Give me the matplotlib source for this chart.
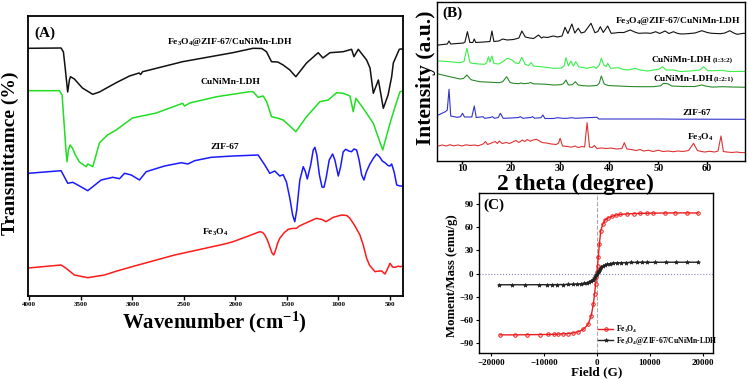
import matplotlib
matplotlib.use("Agg")
import matplotlib.pyplot as plt

plt.rcParams["font.family"] = ["Liberation Serif", "DejaVu Serif"]
plt.rcParams["font.weight"] = "bold"
plt.rcParams["mathtext.fontset"] = "custom"
plt.rcParams["mathtext.rm"] = "Liberation Serif:bold"
plt.rcParams["mathtext.it"] = "Liberation Serif:bold"
plt.rcParams["mathtext.bf"] = "Liberation Serif:bold"

# ---------------- (A) FTIR data ----------------
ftir_comp_wn = [4010, 3692, 3669, 3650, 3628, 3611, 3601, 3563, 3485, 3385, 3320, 3157, 3028, 2935,
                2920, 2901, 2833, 2513, 2026, 1829, 1744, 1699, 1650, 1589, 1537, 1472, 1414, 1310,
                1197, 1151, 1083, 954, 873, 850, 808, 727, 694, 662, 613, 565, 519, 484, 468, 410, 393, 374]
ftir_comp_t = [251.7, 252, 248, 230, 208, 220, 223.3, 221, 212, 205.7, 208, 217.3, 224, 227,
               225.5, 228.3, 230, 238.3, 247.3, 251.7, 251.5, 248.3, 238.3, 238, 235, 230, 223.3, 237,
               247.3, 242, 247.3, 248.3, 250.7, 243.3, 250.7, 240, 232, 206.7, 220, 191.7, 205, 223.3, 237, 250.7, 251, 251]

ftir_ldh_wn = [4010, 3708, 3682, 3665, 3645, 3634, 3621, 3604, 3582, 3553, 3514, 3449, 3433, 3384, 3320,
               3242, 3157, 2999, 2768, 2513, 2493, 2444, 2182, 1861, 1829, 1780, 1731, 1696, 1650, 1585,
               1537, 1472, 1414, 1310, 1180, 1100, 1018, 954, 889, 857, 831, 760, 662, 571, 500, 451, 403, 374]
ftir_ldh_t = [209.3, 209.3, 205, 180, 150, 138.3, 150, 155, 152, 145, 138, 133.3, 136, 133.3, 157,
              165, 170, 182, 187, 196.7, 194, 197, 203.3, 208.3, 208.3, 202.7, 204, 198, 183.3, 181.7,
              180, 174, 168.3, 183.3, 198.3, 200, 207.3, 206.7, 204, 188.3, 201.7, 191.7, 176.7, 150, 176.7, 193.3, 208.3, 209]

ftir_zif_wn = [4010, 3692, 3627, 3579, 3530, 3433, 3303, 3190, 3125, 3076, 3011, 2931, 2866, 2688, 2525,
               2461, 2396, 2234, 2023, 1780, 1715, 1667, 1618, 1570, 1537, 1505, 1472, 1445, 1424, 1405,
               1375, 1342, 1320, 1303, 1270, 1245, 1229, 1210, 1185, 1160, 1141, 1120, 1090, 1057, 1035,
               1002, 980, 955, 931, 900, 873, 850, 824, 800, 775, 753, 730, 695, 660, 630, 600, 575, 549,
               520, 500, 484, 460, 435, 403, 380]
ftir_zif_t = [126.7, 129.3, 116.7, 117.7, 115, 109.3, 120, 122.7, 121.3, 126.7, 125, 120, 128.3, 134, 137.3,
              136, 139.3, 142.7, 144, 145, 135, 126.7, 129, 124, 125.3, 118, 101.7, 85, 78.3, 90,
              120, 133.3, 128, 121, 135, 150, 152.7, 145, 125, 113, 112.7, 122, 140, 146, 140,
              124, 133, 148, 150.7, 149, 148.3, 151, 150, 140, 125, 120, 128, 136, 142, 146, 143, 139, 137.3,
              134.5, 134, 136, 128, 115, 114, 114]

ftir_fe_wn = [4010, 3692, 3643, 3563, 3433, 3271, 3150, 2979, 2590, 2104, 2023, 1900, 1764, 1735, 1715,
              1690, 1667, 1645, 1628, 1610, 1590, 1570, 1530, 1488, 1450, 1407, 1380, 1310, 1213, 1160,
              1122, 1050, 969, 920, 889, 840, 792, 760, 727, 700, 646, 610, 581, 549, 520, 500, 475, 451, 420, 400, 374]
ftir_fe_t = [32, 35, 31.7, 25, 22.3, 25, 29, 34, 45, 56, 58.3, 63, 68.3, 67.5, 65,
             60, 53.3, 47, 45, 50, 57, 61.7, 67, 70.7, 71.5, 71.7, 74, 77.3, 81.7, 80.5,
             78.3, 82.7, 85, 84.5, 81.7, 74, 65, 55, 41.7, 35, 28.3, 29, 29, 26, 32, 36.7, 33, 32.7, 33.8, 33.3, 34]

# ---------------- (B) XRD data ----------------
xrd_comp_2t = [5.2, 7.0, 7.35, 7.7, 9.0, 10.3, 10.6, 11.1, 11.6, 12.2, 12.5, 12.8, 14.5, 15.7, 16.1, 16.5,
               17.5, 18.3, 19.2, 20.5, 21.6, 22.2, 22.9, 23.8, 24.6, 25.6, 26.2, 26.6, 27.4, 28.6, 29.5,
               30.4, 31.0, 31.6, 32.4, 33.0, 33.7, 34.3, 35.0, 35.4, 36.3, 37.1, 37.7, 38.2, 38.8, 39.7,
               40.4, 41.2, 41.9, 43.0, 44.3, 45.2, 46.0, 47.5, 48.5, 49.5, 50.3, 51.4, 52.2, 53.1, 54.0,
               54.8, 56.0, 57.5, 58.9, 60.0, 60.9, 62.7, 63.6, 64.6, 65.4, 66.1, 67.4, 68.0]
xrd_comp_i = [125, 126, 129, 126, 126.5, 127, 128, 138.3, 127.5, 127.5, 131, 127.5, 128, 128.5, 139, 128.5,
              129, 131, 130, 130.5, 132, 139, 133, 132, 131.5, 135, 132, 133, 132.5, 134, 133,
              134, 142.7, 136.5, 146, 137, 141.7, 137, 138, 140.7, 146.7, 137.3, 138.5, 143.3, 137.5, 144,
              136.7, 137, 137.5, 137.5, 140, 138, 136.7, 137, 136.7, 138.3, 136.5, 139, 136.5, 138.3, 136.5,
              136, 136.3, 137, 139.3, 137.5, 136.7, 136.3, 137, 139.3, 137, 135.7, 136.7, 136.5]

xrd_ldh132_2t = [5.2, 7.0, 9.6, 10.4, 11.0, 11.6, 12.0, 13.5, 14.6, 15.0, 15.4, 15.7, 16.1, 16.5, 17.5,
                 18.4, 19.0, 19.4, 20.2, 20.9, 21.6, 22.2, 22.9, 23.6, 24.1, 24.6, 26.0, 27.5, 28.6, 30.3,
                 30.8, 31.2, 31.7, 32.2, 32.7, 33.2, 33.8, 35.4, 36.2, 36.8, 37.4, 38.0, 38.4, 38.9, 39.4,
                 39.7, 40.3, 41.9, 42.5, 43.8, 45.3, 46.3, 47.9, 49.0, 50.1, 50.9, 51.6, 53.1, 54.5, 56.5,
                 58.5, 59.3, 60.1, 61.5, 63.0, 64.5, 66.0, 68.0]
xrd_ldh132_i = [109, 108.5, 107.3, 108.5, 121.7, 108, 106.7, 106, 105.7, 107, 113.3, 108, 114, 106.5, 106,
                108.5, 111, 111.7, 110, 107, 106.5, 112.7, 105.5, 104.5, 107.5, 104, 103.3, 102.5, 101.7, 102,
                104, 112.3, 104, 109, 104, 108.3, 103.3, 101.7, 102.5, 103.3, 101.7, 105, 111.7, 105, 103.5,
                106.7, 101.7, 102.3, 101, 100, 101.7, 100, 99, 100, 100.7, 103.3, 100, 100, 98.5, 99,
                100, 103.3, 99.3, 99.3, 99.6, 98.5, 98.6, 98.5]

xrd_ldh121_2t = [5.2, 7.5, 9.6, 10.3, 11.0, 11.7, 12.0, 13.6, 16.0, 17.6, 18.3, 19.1, 19.8, 20.5, 21.6,
                 22.0, 22.5, 23.5, 24.0, 24.5, 27.0, 28.7, 30.2, 30.7, 31.2, 31.7, 32.5, 33.1, 33.7, 34.7,
                 36.0, 37.5, 38.0, 38.4, 39.0, 39.8, 41.8, 44.0, 46.3, 49.0, 50.5, 51.1, 52.0, 52.8, 55.0,
                 57.5, 58.9, 59.8, 61.0, 63.0, 65.0, 68.0]
xrd_ldh121_i = [96, 93.3, 91, 91.5, 95, 91, 90, 88.3, 87.7, 87.3, 88.3, 93.3, 87.5, 86.7, 86.3,
                87, 86.3, 86.7, 87.5, 86.2, 85.8, 85, 85.3, 86.5, 90, 85, 85.3, 88.3, 85, 84.3,
                84, 84.5, 87, 94, 86, 84.5, 84, 83.5, 83.3, 83.3, 84.2, 86.7, 86.2, 84, 83.5,
                83.5, 85, 83.8, 82.9, 83.3, 83, 82.7]

xrd_zif_2t = [5.2, 5.9, 6.6, 7.0, 7.35, 7.7, 9.0, 9.7, 10.1, 10.5, 12.0, 12.5, 12.9, 14.3, 14.6, 15.8,
              16.2, 16.6, 17.4, 17.8, 18.4, 20.0, 21.5, 21.9, 22.4, 24.0, 24.4, 24.8, 26.1, 26.5, 26.9,
              28.6, 29.5, 30.5, 31.5, 32.3, 33.2, 35.4, 37.5, 37.9, 40, 45, 50, 55, 60, 68]
xrd_zif_i = [55, 56.7, 58.3, 60, 80.7, 54, 52.7, 53.3, 56.7, 53, 53, 64, 52.5, 53.3, 51.7, 52.5,
             53.3, 51.7, 52.5, 56.7, 51.7, 52, 52.5, 53.3, 51.7, 52.5, 53.3, 51.8, 52.3, 55, 51.5,
             51.5, 52.3, 51.7, 51.7, 52.3, 51.7, 52.3, 52.7, 51, 51, 51, 51, 50.8, 50.8, 50.7]

xrd_fe_2t = [5.2, 6.0, 6.8, 7.5, 8.3, 9.2, 10.0, 10.8, 11.7, 12.5, 13.3, 14.3, 14.8, 15.2, 16.0, 16.8,
             17.2, 17.6, 18.2, 19.0, 19.7, 20.3, 21.0, 21.6, 22.3, 22.8, 23.3, 23.9, 24.5, 25.2, 25.8,
             26.3, 27.2, 28.2, 29.2, 29.7, 30.0, 30.5, 31.5, 32.3, 33.0, 33.7, 34.5, 35.0, 35.5, 36.0,
             36.5, 37.0, 37.5, 38.5, 39.5, 40.3, 41.5, 42.6, 43.1, 43.6, 44.5, 45.5, 46.3, 47.0, 48.0,
             49.0, 50.0, 51.0, 52.0, 53.0, 54.0, 55.0, 56.2, 57.2, 58.0, 58.8, 59.5, 60.5, 61.5, 62.2,
             62.8, 63.3, 64.0, 65.0, 66.0, 67.0, 68.0]
xrd_fe_i = [24, 25, 24, 25.3, 24.2, 25, 24, 25.2, 24.5, 25, 24.2, 26, 28.5, 25.5, 27, 28.5,
            26.5, 29, 26.5, 27.5, 26.5, 28, 29.5, 27.5, 30, 28.5, 30.5, 28.8, 30, 30.7, 29,
            27.5, 27, 26, 25.5, 27, 31.7, 24, 23.5, 22.8, 24, 22.5, 23.5, 23, 47.3, 23,
            22.5, 24.5, 21.5, 22, 21.5, 22, 21, 21.5, 27.3, 21, 20.5, 19.5, 20.5, 19, 19.7,
            18.5, 19.8, 18.5, 19, 18.3, 19, 18.5, 19.5, 26.7, 19.5, 18.5, 18, 18.7, 18, 19,
            34, 18.5, 18, 17.5, 18, 17.3, 17.5]

# ---------------- (C) VSM data ----------------
vsm_fe_field = [-18300, -15500, -13300, -10800, -9200, -8200, -7300, -6400, -5400, -4500, -3500, -2600,
                -1700, -1100, -700, -450, -250, -100, 0, 100, 250, 450, 700, 1100, 1500, 2000, 2800,
                3500, 4300, 5600, 6900, 8100, 9400, 10600, 12800, 14700, 16900, 19100]
vsm_fe_m = [-79.5, -79.5, -79.3, -79.1, -79, -78.8, -78.5, -78.2, -77.8, -77, -75.5, -72.5,
            -66, -55, -40, -26, -13, -5, 2, 10, 22, 38, 55, 64, 69, 71.5, 74,
            75.5, 76.5, 77.2, 77.6, 77.9, 78.1, 78.2, 78.4, 78.5, 78.5, 78.4]

vsm_comp_field = [-18500, -16000, -13500, -11000, -9500, -8500, -7500, -6500, -5500, -4500, -3700, -3000,
                  -2400, -1900, -1500, -1100, -800, -500, -300, -100, 0, 100, 300, 500, 800, 1100, 1500,
                  1900, 2400, 3000, 3700, 4500, 5500, 6500, 7500, 8500, 9500, 11000, 13000, 15000, 17000, 19000]
vsm_comp_m = [-14.6, -14.6, -14.6, -14.5, -14.5, -14.4, -14.4, -14.3, -14.2, -14, -13.8, -13.4,
              -12.8, -12, -11, -9.5, -8, -5.8, -3.8, -1.3, 0, 1.3, 3.8, 5.8, 8, 9.5, 11,
              12, 12.8, 13.4, 13.8, 14, 14.2, 14.3, 14.4, 14.4, 14.5, 14.5, 14.6, 14.6, 14.6, 14.6]

W, H = 749, 380
fig = plt.figure(figsize=(W / 100, H / 100), dpi=100)


def box(left, top, right, bottom):
    # pixel box -> figure fraction
    return [left / W, 1 - bottom / H, (right - left) / W, (bottom - top) / H]


def ftxt(px, py, s, **kw):
    fig.text(px / W, 1 - py / H, s, **kw)


# ======== (A) ========
axA = fig.add_axes(box(28.3, 16, 403, 295.5))
axA.plot(ftir_comp_wn, ftir_comp_t, color="#111111", lw=1.1)
axA.plot(ftir_ldh_wn, ftir_ldh_t, color="#22dd22", lw=1.1)
axA.plot(ftir_zif_wn, ftir_zif_t, color="#1a1aff", lw=1.1)
axA.plot(ftir_fe_wn, ftir_fe_t, color="#ff1a1a", lw=1.1)
axA.set_xlim(4010, 374)
axA.set_ylim(4.5, 284)
axA.set_xticks([4000, 3500, 3000, 2500, 2000, 1500, 1000, 500])
axA.set_yticks([])
axA.tick_params(axis="x", direction="out", length=3, width=1, labelsize=5, pad=1.5)
for s in axA.spines.values():
    s.set_linewidth(1.3)

ftxt(45, 33, "(A)", fontsize=11, ha="center", va="center")
ftxt(230, 41.7, "Fe$_3$O$_4$@ZIF-67/CuNiMn-LDH", fontsize=6.8, ha="center", va="center")
ftxt(230, 81.7, "CuNiMn-LDH", fontsize=6.8, ha="center", va="center")
ftxt(225, 146.7, "ZIF-67", fontsize=6.8, ha="center", va="center")
ftxt(215, 232, "Fe$_3$O$_4$", fontsize=6.8, ha="center", va="center")
ftxt(10, 153, "Transmittamce (%)", fontsize=14, rotation=90, ha="center", va="center")
ftxt(214, 322, "Wavenumber (cm$^{-1}$)", fontsize=15, ha="center", va="center")

# ======== (B) ========
axB = fig.add_axes(box(437, 2, 745, 161))
axB.plot(xrd_comp_2t, xrd_comp_i, color="#111111", lw=0.8)
axB.plot(xrd_ldh132_2t, xrd_ldh132_i, color="#3bee4a", lw=0.8)
axB.plot(xrd_ldh121_2t, xrd_ldh121_i, color="#2a8a2a", lw=0.8)
axB.plot(xrd_zif_2t, xrd_zif_i, color="#3333cc", lw=0.8)
axB.plot(xrd_fe_2t, xrd_fe_i, color="#dd3333", lw=0.8)
axB.set_xlim(4.9, 67.7)
axB.set_ylim(9, 168)
axB.set_xticks([10, 20, 30, 40, 50, 60])
axB.set_yticks([])
axB.tick_params(axis="x", direction="out", length=2, width=1, labelsize=7.5, pad=0.5)
for s in axB.spines.values():
    s.set_linewidth(1.0)

ftxt(452, 13, "(B)", fontsize=11, ha="center", va="center")
ftxt(678, 21, "Fe$_3$O$_4$@ZIF-67/CuNiMn-LDH", fontsize=6.8, ha="center", va="center")
ftxt(652, 60, "CuNiMn-LDH", fontsize=6.8, ha="left", va="center")
ftxt(713, 60.5, "(1:3:2)", fontsize=5, ha="left", va="center")
ftxt(653, 79, "CuNiMn-LDH", fontsize=6.8, ha="left", va="center")
ftxt(714, 79.5, "(1:2:1)", fontsize=5, ha="left", va="center")
ftxt(697, 113, "ZIF-67", fontsize=6.8, ha="center", va="center")
ftxt(700, 137, "Fe$_3$O$_4$", fontsize=6.8, ha="center", va="center")
ftxt(426, 78, "Intensity (a.u.)", fontsize=15.5, rotation=90, ha="center", va="center")
ftxt(575, 173.5, "2 theta (degree)", fontsize=17, ha="center", va="top")

# ======== (C) ========
axC = fig.add_axes(box(479, 193, 713, 353))
axC.axvline(0, color="#aaaaaa", lw=0.8, ls="--")
axC.axhline(0, color="#8888bb", lw=0.8, ls=":")
axC.plot(vsm_fe_field, vsm_fe_m, color="#ee1c1c", lw=1.0, marker="o", ms=2.5,
         mfc="none", mew=0.7, label="Fe$_3$O$_4$")
axC.plot(vsm_comp_field, vsm_comp_m, color="#222222", lw=1.0, marker="*", ms=3,
         mew=0.5, label="Fe$_3$O$_4$@ZIF-67/CuNiMn-LDH")
axC.set_xlim(-22264, 21887)
axC.set_ylim(-103, 104.3)
axC.set_xticks([-20000, -10000, 0, 10000, 20000])
axC.set_yticks([90, 60, 30, 0, -30, -60, -90])
axC.tick_params(direction="out", length=2.5, width=0.8, labelsize=6.5, pad=1.5)
for s in axC.spines.values():
    s.set_linewidth(1.0)
axC.legend(loc="lower left", bbox_to_anchor=((598 - 479) / 234, (353 - 347) / 160),
           frameon=False, fontsize=5.5, handlelength=2.0, handletextpad=0.3,
           labelspacing=0.05, borderaxespad=0, borderpad=0)

ftxt(494, 205, "(C)", fontsize=11, ha="center", va="center")
ftxt(452, 276, "Moment/Mass (emu/g)", fontsize=9.2, rotation=90, ha="center", va="center")
ftxt(597, 372, "Field (G)", fontsize=9.5, ha="center", va="center")

plt.savefig("out.png", dpi=100)
plt.close()
